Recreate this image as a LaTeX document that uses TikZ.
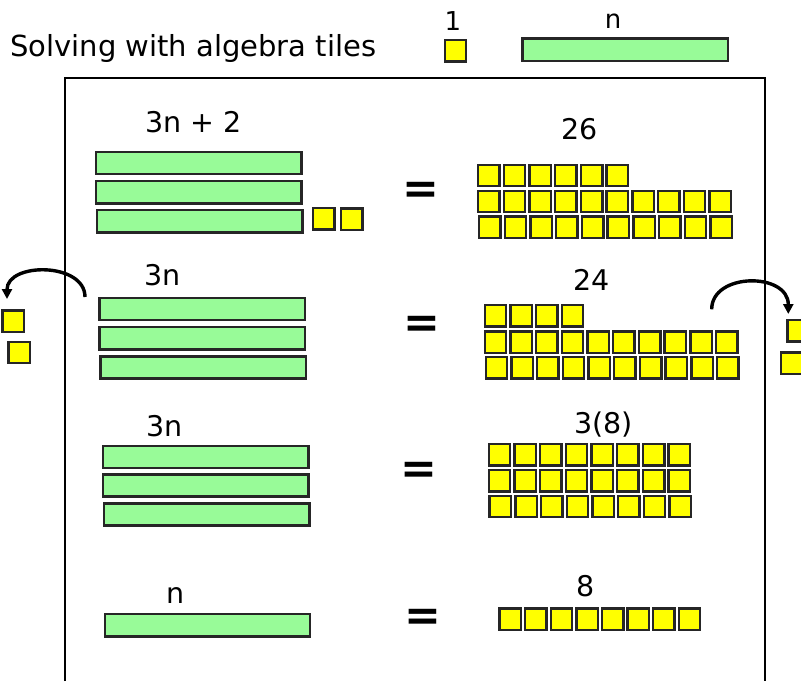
\documentclass[tikz,border=0pt]{standalone}
\usepackage{fontspec}
\setmainfont{DejaVu Sans}
\usepackage{xcolor}
\usetikzlibrary{positioning, arrows.meta}
\definecolor{tilegreen}{RGB}{152,251,152}
\definecolor{tileyellow}{RGB}{255,255,0}

\begin{document}
\begin{tikzpicture}[x=1pt, y=-1pt,
  bar/.style={draw=black!85, line width=2.4pt, fill=tilegreen, minimum width=205.4pt, minimum height=22.2pt, inner sep=0pt, anchor=north west},
  unit/.style={draw=black!85, line width=2.4pt, fill=tileyellow, minimum size=21.4pt, inner sep=0pt, anchor=north west},
  lbl/.style={font=\fontsize{28.5}{30}\selectfont, anchor=base, inner sep=0pt},
  eqsign/.style={font=\fontsize{44}{44}\selectfont\bfseries, inner sep=0pt},
  flip/.style={-{Triangle[length=10pt, width=10pt]}, line width=3.4pt}
]
  \clip (0,0) rectangle (801,681);
  \draw[line width=1.8pt] (65,681) -- (65,78) -- (765,78) -- (765,681);

  % heading and key
  \node[lbl, anchor=base west, font=\fontsize{29}{30}\selectfont] (title) at (10,56) {Solving with algebra tiles};
  \node[unit] (keyone) at (443.5,39) {};
  \node[lbl, font=\fontsize{26}{28}\selectfont] (keyonelbl) at (453,30) {1};
  \node[bar, minimum height=22.5pt] (keyn) at (521.2,37.2) {};
  \node[lbl, font=\fontsize{26}{28}\selectfont] (keynlbl) at (613,28.3) {n};

  % 3n + 2 = 26
  \node[lbl] (lhsone) at (193.5,132.7) {3n + 2};
  \node[bar] (barone1) at (94.9,150.5) {};
  \node[bar] (barone2) at (94.9,179.9) {};
  \node[bar] (barone3) at (95.9,208.9) {};
  \node[unit] (extra1) at (311.9,206.9) {};
  \node[unit] (extra2) at (339.9,207.4) {};
  \node[eqsign] (eqone) at (420.8,193) {=};
  \node[lbl] (rhsone) at (579.2,139) {26};
  \foreach \r/\n/\x/\y in {a/6/476.9/163.5, b/10/476.9/189.5, c/10/477.9/215.2}
    \foreach \i in {1,...,\n}
      \node[unit] (one\r\i) at (\x+25.7*\i-25.7,\y) {};

  % take 2 from both sides
  \node[lbl] (lhstwo) at (162.8,285) {3n};
  \node[bar] (bartwo1) at (98.2,296.5) {};
  \node[bar] (bartwo2) at (98.2,325.9) {};
  \node[bar] (bartwo3) at (99.2,355.2) {};
  \node[unit] (outL1) at (1.2,309.2) {};
  \node[unit] (outL2) at (7.2,340.5) {};
  \node[eqsign] (eqtwo) at (422,326.5) {=};
  \node[lbl] (rhstwo) at (591.3,290) {24};
  \foreach \r/\n/\x/\y in {a/4/483.5/303.9, b/10/483.5/330.2, c/10/484.5/355.9}
    \foreach \i in {1,...,\n}
      \node[unit] (two\r\i) at (\x+25.7*\i-25.7,\y) {};
  \node[unit] (outR1) at (786.2,318.9) {};
  \node[unit] (outR2) at (779.5,351.2) {};
  \coordinate (liftL) at (85,297);
  \coordinate (dropL) at (7,299);
  \coordinate (liftR) at (711.7,309.3);
  \coordinate (dropR) at (788.3,314);
  \draw[flip] (liftL) .. controls +(0,-35) and +(0,-37) .. (dropL);
  \draw[flip] (liftR) .. controls +(0,-37) and +(0,-42) .. (dropR);

  % 3n = 3(8)
  \node[lbl] (lhsthree) at (164.5,436.7) {3n};
  \node[bar] (barthree1) at (101.7,444.5) {};
  \node[bar] (barthree2) at (101.7,473.2) {};
  \node[bar] (barthree3) at (102.7,502.2) {};
  \node[eqsign] (eqthree) at (419.2,473) {=};
  \node[lbl] (rhsthree) at (603.6,433) {3(8)};
  \foreach \r/\x/\y in {a/487.5/442.9, b/487.5/468.9, c/488.4/494.5}
    \foreach \i in {1,...,8}
      \node[unit] (three\r\i) at (\x+25.7*\i-25.7,\y) {};

  % n = 8
  \node[lbl] (lhsfour) at (175.4,603.3) {n};
  \node[bar] (barfour) at (103.6,612.9) {};
  \node[eqsign] (eqfour) at (422.7,620) {=};
  \node[lbl] (rhsfour) at (585.6,596.7) {8};
  \foreach \i in {1,...,8}
    \node[unit] (four\i) at (498.3+25.6*\i-25.6,607.2) {};
\end{tikzpicture}
\end{document}
